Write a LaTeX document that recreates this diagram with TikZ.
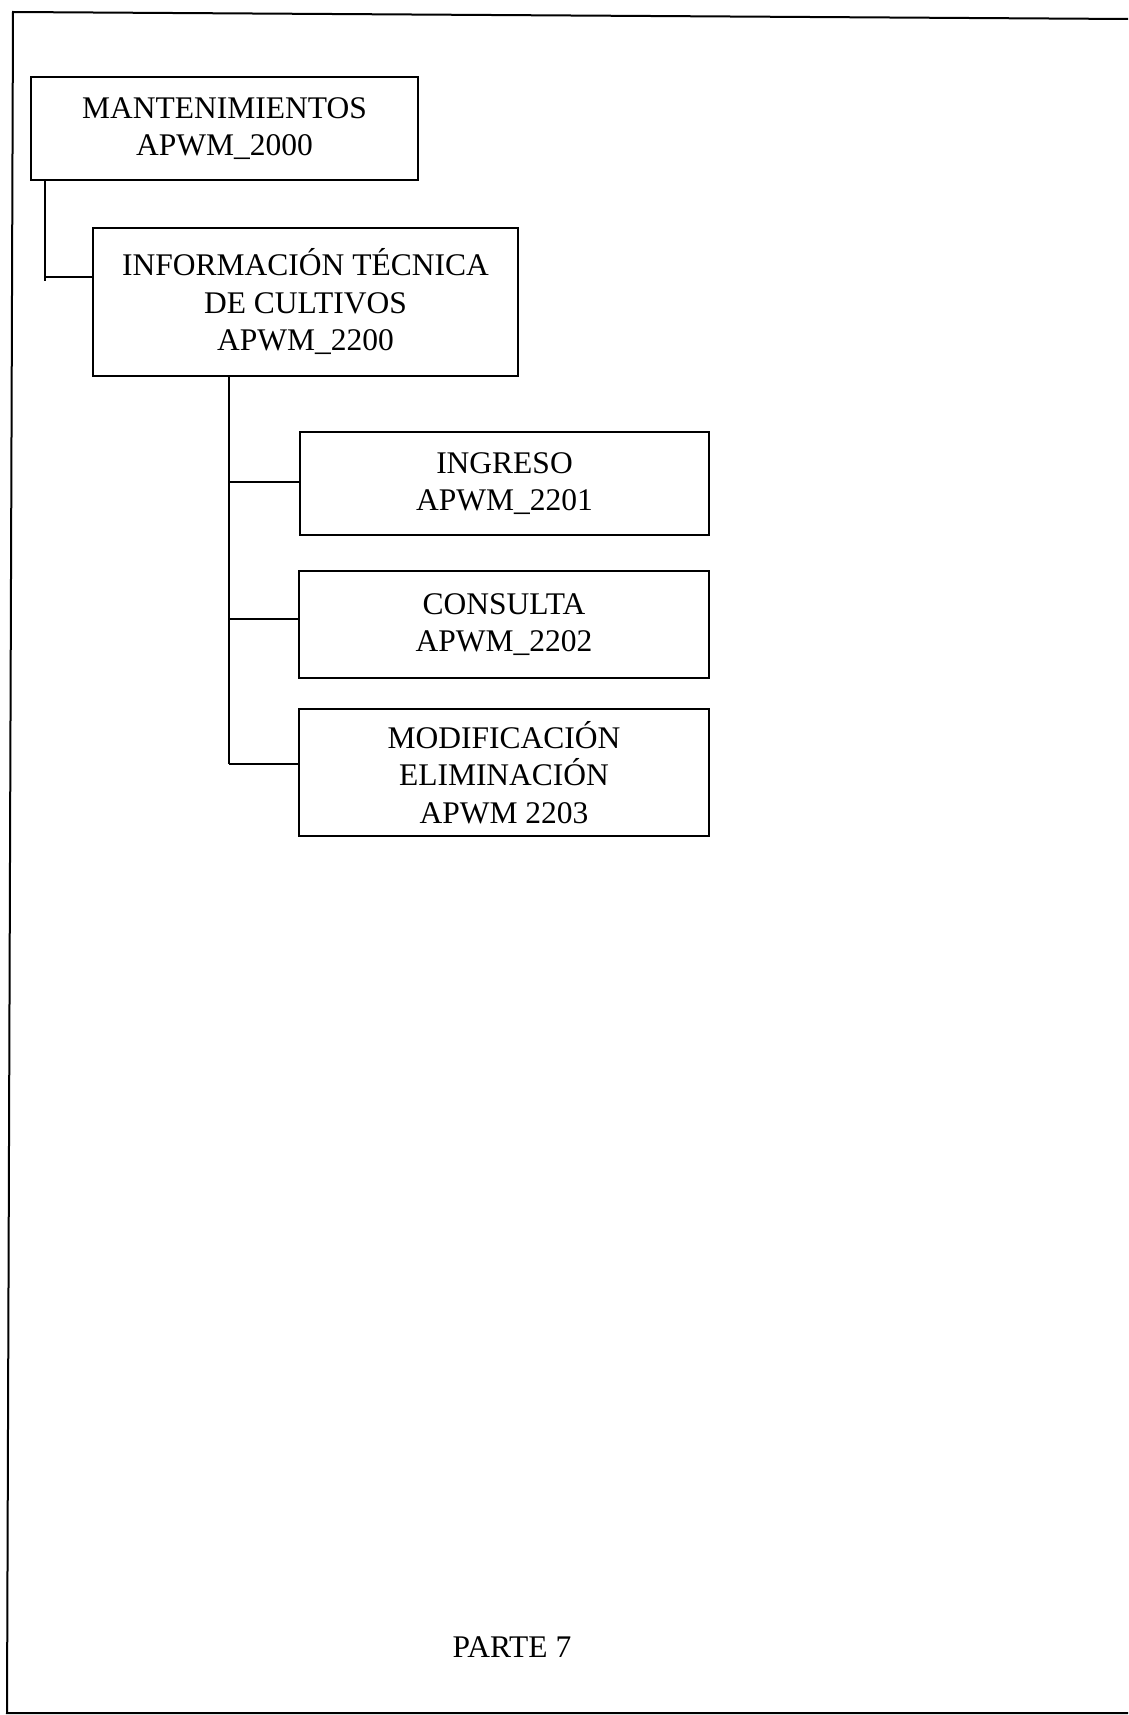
\documentclass[tikz,border=0pt]{standalone}
\usepackage{fontspec}
\setmainfont{Liberation Serif}
\begin{document}
\begin{tikzpicture}[x=1pt,y=-1pt,
  box/.style={draw, line width=1.6pt, rectangle, inner sep=0pt, align=center,
    font=\fontsize{31.5}{37.5}\selectfont},
  link/.style={line width=1.6pt},
  frame/.style={line width=2pt}]
\useasboundingbox (0,0) rectangle (1128,1715);
% page frame (right side open)
\coordinate (ftl) at (13,12);
\coordinate (ftr) at (1128,19);
\coordinate (fbl) at (7,1713);
\coordinate (fbr) at (1128,1713);
\draw[frame] (ftr) -- (ftl) -- (fbl) -- (fbr);
% boxes
\node[box, minimum width=387pt, minimum height=103pt] (b1) at (224.5,128.5)
  {MANTENIMIENTOS\\APWM\_2000};
\node[box, minimum width=425pt, minimum height=148pt] (b2) at (305.5,302)
  {INFORMACIÓN TÉCNICA\\DE CULTIVOS\\APWM\_2200};
\node[box, minimum width=409pt, minimum height=103pt] (b3) at (504.5,483.5)
  {INGRESO\\APWM\_2201};
\node[box, minimum width=410pt, minimum height=107pt] (b4) at (504,624.5)
  {CONSULTA\\APWM\_2202};
\node[box, minimum width=410pt, minimum height=127pt] (b5) at (504,772.5)
  {MODIFICACIÓN\\ELIMINACIÓN\\APWM 2203};
% connectors
\coordinate (j1) at (45,277);
\draw[link] (j1 |- b1.south) -- ([yshift=-4pt]j1);
\draw[link] (j1) -- (j1 -| b2.west);
\coordinate (k3) at (229,482);
\coordinate (k4) at (229,619);
\coordinate (k5) at (229,764);
\draw[link] (k3 |- b2.south) -- (k5);
\draw[link] (k3) -- (k3 -| b3.west);
\draw[link] (k4) -- (k4 -| b4.west);
\draw[link] (k5) -- (k5 -| b5.west);
% footer
\node[anchor=base, inner sep=0pt, font=\fontsize{31.5}{37.5}\selectfont] (parte) at (512,1657) {PARTE 7};
\end{tikzpicture}
\end{document}
